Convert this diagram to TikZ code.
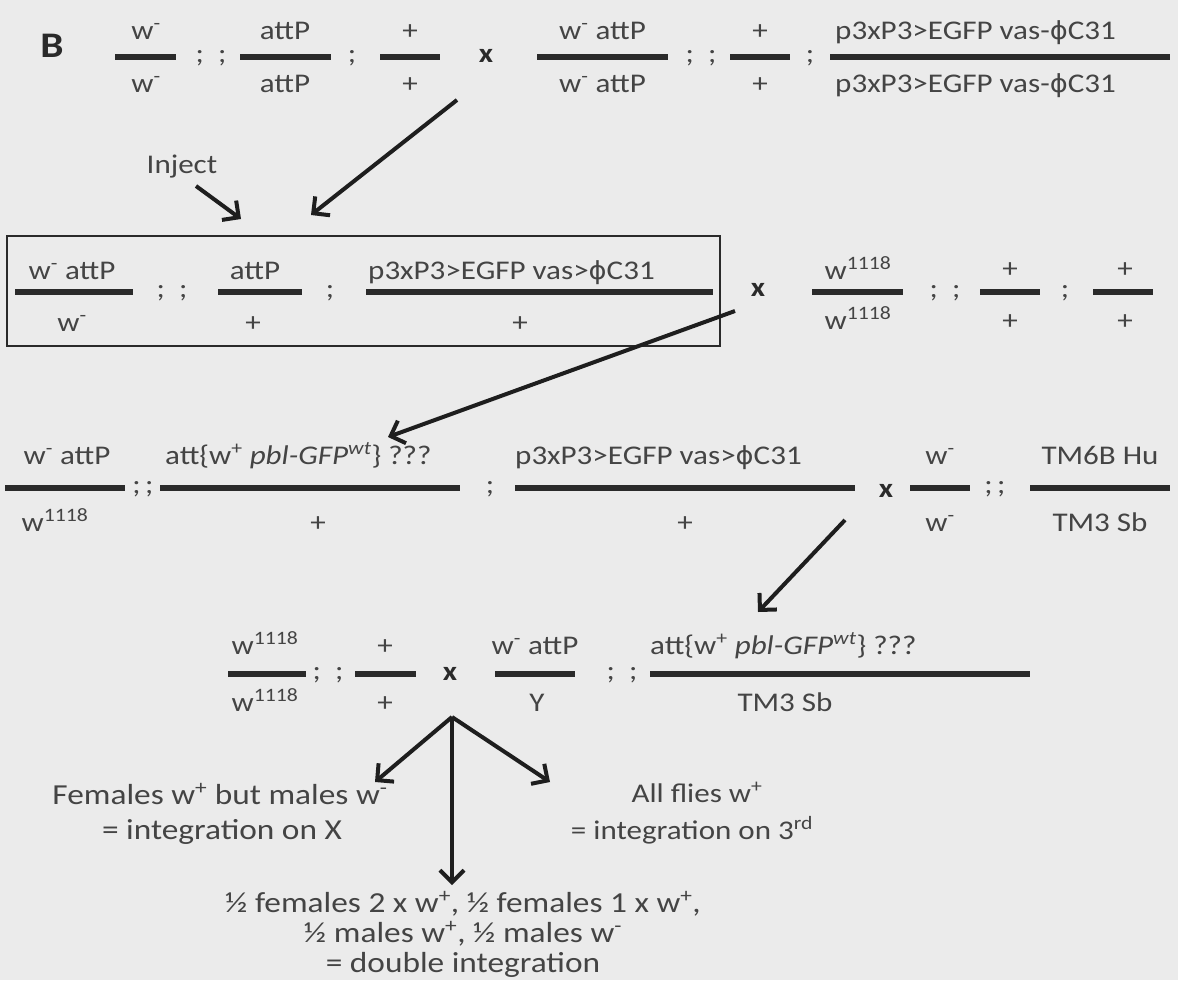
\documentclass[tikz,border=0pt]{standalone}
\usepackage{fontspec}
\setmainfont{Carlito}[FakeStretch=1.15]
\newfontfamily\phifont{DejaVu Sans}[Scale=0.92,FakeStretch=1.1]
\usetikzlibrary{arrows.meta}
\definecolor{bgc}{HTML}{EBEBEB}
\definecolor{txtc}{HTML}{444444}
\definecolor{barc}{HTML}{2A2A2A}
\definecolor{arrc}{HTML}{1E1E1E}
\newcommand{\gsup}[1]{\textsuperscript{#1}}
\newcommand{\mn}{\gsup{-}}
\newcommand{\pl}{\gsup{+}}
\newcommand{\wes}{w\gsup{1118}}
\newcommand{\phic}{{\phifont ϕ}}
\newcommand{\attw}{att\{w\pl{} \textit{pbl-GFP\gsup{wt}}\} ???}
\tikzset{
  lbl/.style={text=txtc, inner sep=0pt, anchor=base, font=\fontsize{27}{33}\selectfont},
  outtxt/.style={lbl, font=\fontsize{29}{33}\selectfont},
  semi/.style={lbl},
  cross/.style={text=barc, inner sep=0pt, anchor=base, font=\fontsize{27}{33}\selectfont\bfseries},
  barnode/.style={fill=barc, inner sep=0pt, minimum height=6pt, minimum width=#1},
  arr/.style={draw=arrc, line width=4pt, -{Straight Barb[length=12pt,width=24pt,line width=4pt]}},
}
\begin{document}
\begin{tikzpicture}[x=1pt,y=-1pt]
\fill[bgc] (0,0) rectangle (1178,980);
\useasboundingbox (0,0) rectangle (1178,980);

% panel letter
\node[text=barc, inner sep=0pt, anchor=base, font=\fontsize{36}{40}\selectfont\bfseries] (B) at (52,57) {B};

% ---------- first cross ----------
\node[barnode=61pt] (r1b1) at (145.5,57) {};
\node[lbl] (r1t1) at (146,39) {w\mn};
\node[lbl] (r1u1) at (146,92) {w\mn};
\node[semi] (r1s1) at (211,62) {;\ \ ;};
\node[barnode=91pt] (r1b2) at (285.5,57) {};
\node[lbl] (r1t2) at (285,39) {attP};
\node[lbl] (r1u2) at (285,92) {attP};
\node[semi] (r1s2) at (352,62) {;};
\node[barnode=60pt] (r1b3) at (410,57) {};
\node[lbl] (r1t3) at (410,39) {+};
\node[lbl] (r1u3) at (410,92) {+};
\node[cross] (r1x) at (486,62) {x};
\node[barnode=131pt] (r1b4) at (602.5,57) {};
\node[lbl] (r1t4) at (602.5,39) {w\mn{} attP};
\node[lbl] (r1u4) at (602.5,92) {w\mn{} attP};
\node[semi] (r1s4) at (701,62) {;\ \ ;};
\node[barnode=60pt] (r1b5) at (760,57) {};
\node[lbl] (r1t5) at (760,39) {+};
\node[lbl] (r1u5) at (760,92) {+};
\node[semi] (r1s5) at (810,62) {;};
\node[barnode=340pt] (r1b6) at (1000,57) {};
\node[lbl, anchor=base west] (r1t6) at (835,39) {p3xP3>EGFP vas-\phic C31};
\node[lbl, anchor=base west] (r1u6) at (835,92) {p3xP3>EGFP vas-\phic C31};

% ---------- injected flies and second cross ----------
\node[draw=barc, line width=2pt, inner sep=0pt, minimum width=713pt, minimum height=110pt] (box) at (363.5,291) {};
\node[lbl] (inj) at (182,173) {Inject};

\node[barnode=118pt] (r2b1) at (74,292) {};
\node[lbl] (r2t1) at (72,279) {w\mn{} attP};
\node[lbl] (r2u1) at (72,331) {w\mn};
\node[semi] (r2s1) at (172,297) {;\ \ ;};
\node[barnode=84pt] (r2b2) at (260,292) {};
\node[lbl] (r2t2) at (255,279) {attP};
\node[lbl] (r2u2) at (253,331) {+};
\node[semi] (r2s2) at (330,297) {;};
\node[barnode=347pt] (r2b3) at (539.5,292) {};
\node[lbl, anchor=base west] (r2t3) at (368,279) {p3xP3>EGFP vas>\phic C31};
\node[lbl] (r2u3) at (520,331) {+};
\node[cross] (r2x) at (758,296) {x};
\node[barnode=91pt] (r2b4) at (857.5,292) {};
\node[lbl] (r2t4) at (858,279) {\wes};
\node[lbl] (r2u4) at (858,329) {\wes};
\node[semi] (r2s4) at (945,297) {;\ \ ;};
\node[barnode=60pt] (r2b5) at (1010,292) {};
\node[lbl] (r2t5) at (1010,277) {+};
\node[lbl] (r2u5) at (1010,329) {+};
\node[semi] (r2s5) at (1065,297) {;};
\node[barnode=60pt] (r2b6) at (1123,292) {};
\node[lbl] (r2t6) at (1125,277) {+};
\node[lbl] (r2u6) at (1125,329) {+};

% ---------- third cross ----------
\node[barnode=120pt] (r3b1) at (65,488) {};
\node[lbl] (r3t1) at (67,464) {w\mn{} attP};
\node[lbl] (r3u1) at (55,531) {\wes};
\node[semi] (r3s1) at (143,493) {;\,;};
\node[barnode=300pt] (r3b2) at (310,488) {};
\node[lbl, anchor=base west] (r3t2) at (165,464) {\attw};
\node[lbl] (r3u2) at (318,531) {+};
\node[semi] (r3s2) at (490,493) {;};
\node[barnode=340pt] (r3b3) at (685,488) {};
\node[lbl, anchor=base west] (r3t3) at (515,464) {p3xP3>EGFP vas>\phic C31};
\node[lbl] (r3u3) at (685,531) {+};
\node[cross] (r3x) at (886,497) {x};
\node[barnode=60pt] (r3b4) at (940,488) {};
\node[lbl] (r3t4) at (940,464) {w\mn};
\node[lbl] (r3u4) at (940,531) {w\mn};
\node[semi] (r3s4) at (995,493) {;\,;};
\node[barnode=140pt] (r3b5) at (1100,488) {};
\node[lbl] (r3t5) at (1100,464) {TM6B Hu};
\node[lbl] (r3u5) at (1100,531) {TM3 Sb};

% ---------- fourth cross ----------
\node[barnode=78pt] (r4b1) at (267,674) {};
\node[lbl] (r4t1) at (265,654) {\wes};
\node[lbl] (r4u1) at (265,711) {\wes};
\node[semi] (r4s1) at (328,679) {;\ \ ;};
\node[barnode=61pt] (r4b2) at (385.5,674) {};
\node[lbl] (r4t2) at (385,654) {+};
\node[lbl] (r4u2) at (385,711) {+};
\node[cross] (r4x) at (450,680) {x};
\node[barnode=80pt] (r4b3) at (535,674) {};
\node[lbl] (r4t3) at (535,654) {w\mn{} attP};
\node[lbl] (r4u3) at (537,711) {Y};
\node[semi] (r4s3) at (622,679) {;\ \ ;};
\node[barnode=380pt] (r4b4) at (840,674) {};
\node[lbl, anchor=base west] (r4t4) at (650,654) {\attw};
\node[lbl] (r4u4) at (785,711) {TM3 Sb};

% ---------- outcomes ----------
\node[outtxt] (outX1) at (220,804) {Females w\pl{} but males w\mn};
\node[outtxt] (outX2) at (222,839) {= integration on X};
\node[lbl] (out31) at (697,802) {All flies w\pl};
\node[lbl] (out32) at (692,839) {= integration on 3\gsup{rd}};
\node[outtxt] (outD1) at (463,912) {½ females 2 x w\pl, ½ females 1 x w\pl,};
\node[outtxt] (outD2) at (463,942) {½ males w\pl, ½ males w\mn};
\node[outtxt] (outD3) at (463,972) {= double integration};

% ---------- arrows ----------
\coordinate (a1s) at (457,100);
\coordinate (a1e) at (311,215);
\coordinate (ais) at (196,186);
\coordinate (aie) at (241,219);
\coordinate (a2s) at (735,311);
\coordinate (a2e) at (388,437);
\coordinate (a3s) at (845,520);
\coordinate (a3e) at (758,612);
\coordinate (fork) at (452,717);
\coordinate (fl) at (375,782);
\coordinate (fr) at (550,782);
\coordinate (fd) at (452,885);
\draw[arr] (a1s) -- (a1e);
\draw[arr] (ais) -- (aie);
\draw[arr] (a2s) -- (a2e);
\draw[arr] (a3s) -- (a3e);
\draw[arr] (fork) -- (fl);
\draw[arr] (fork) -- (fr);
\draw[arr] (fork) -- (fd);
\end{tikzpicture}
\end{document}
